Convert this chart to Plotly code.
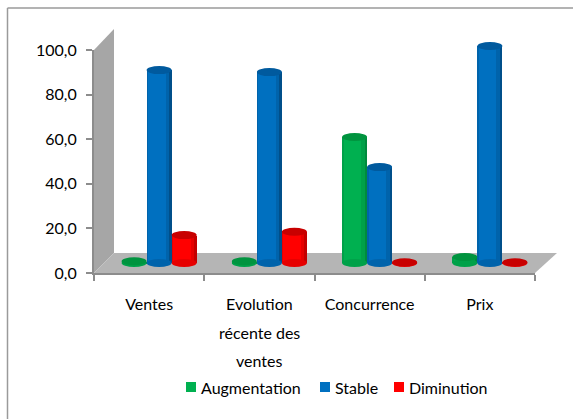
import plotly.graph_objects as go
import numpy as np

categories = ["Ventes", "Evolution", "Concurrence", "Prix"]
extra_label_lines = ["récente des", "ventes"]
series_names = ["Augmentation", "Stable", "Diminution"]
augmentation = [0.8, 0.8, 56.5, 2.7]
stable = [86.5, 85.6, 43.0, 97.3]
diminution = [12.5, 14.0, 0.3, 0.3]
y_ticks = [0, 20, 40, 60, 80, 100]

W, H = 573, 419
FONT = "Lato"
px = lambda v: v / W
py = lambda v: 1 - v / H

AX_L, AX_R, AX_B, AX_T = 94, 535, 273, 50
DX, DY = 10, 10
PAD = 6  # extra data units so that the ellipses are not clipped
unit = (AX_B - AX_T) / 100

BAR_W = 0.227
offsets = [-BAR_W, 0, BAR_W]
values = [augmentation, stable, diminution]
# (main, side, dark edge, top)
palette = [("#00B050", "#00A149", "#008A3E", "#00943F"),
           ("#0070C0", "#0063AB", "#004F8A", "#005A9E"),
           ("#FF0000", "#E60000", "#C40000", "#C80000")]
layers = [(1.0, 0.0, 2), (0.90, -0.05, 1), (0.70, -0.09, 0)]

pos = np.arange(len(categories), dtype=float)
fig = go.Figure()

for s, name in enumerate(series_names):
    for li, (wf, off, col) in enumerate(layers):
        fig.add_trace(go.Bar(
            x=pos + offsets[s] + off * BAR_W, y=values[s], width=BAR_W * wf,
            name=name, legendgroup=name, showlegend=False,
            marker=dict(color=palette[s][col], line=dict(width=0)),
            xaxis="x2", yaxis="y2", hoverinfo="y"))

# a dummy trace carrying the front axes
fig.add_trace(go.Scatter(x=[0], y=[0], mode="markers", marker=dict(opacity=0),
                         showlegend=False, hoverinfo="skip"))

shapes = []
GREY = "#8C8C8C"
def poly(points, color):
    d = "M " + " L ".join(f"{px(a):.5f},{py(b):.5f}" for a, b in points) + " Z"
    return dict(type="path", path=d, xref="paper", yref="paper", fillcolor=color,
                line=dict(width=0), layer="below")
shapes.append(poly([(94, 273), (114, 253), (114, 29), (94, 50)], "#A6A6A6"))
shapes.append(poly([(94, 273), (535, 273), (557, 253), (114, 253)], "#B5B5B5"))
# frame
for x0, y0, x1, y1 in [(7.5, 8, 7.5, 419), (7.5, 8, 573, 8)]:
    shapes.append(dict(type="line", xref="paper", yref="paper", x0=px(x0), x1=px(x1),
                       y0=py(y0), y1=py(y1), line=dict(color="#9A9A9A", width=1.5), layer="below"))
# cylinder ends, derived from the data
EH = 4 / unit
for s in range(3):
    for i, v in enumerate(values[s]):
        c = pos[i] + offsets[s]
        shapes.append(dict(type="circle", xref="x2", yref="y2", x0=c - BAR_W / 2, x1=c + BAR_W / 2,
                           y0=-EH, y1=EH, fillcolor=palette[s][1], line=dict(width=0)))
        shapes.append(dict(type="circle", xref="x2", yref="y2", x0=c - BAR_W / 2, x1=c + BAR_W / 2,
                           y0=v - EH, y1=v + EH, fillcolor=palette[s][3], line=dict(width=0)))

annotations = []
for k, line in enumerate(extra_label_lines):
    annotations.append(dict(text=line, x=1, xref="x", y=py(332 + 28 * k), yref="paper", yanchor="middle",
                            showarrow=False, font=dict(family=FONT, size=16, color="black")))
# legend row
legend_swatch_x = [186, 320, 394]
LEG_Y = 387
for s, name in enumerate(series_names):
    x0 = legend_swatch_x[s]
    shapes.append(dict(type="rect", xref="paper", yref="paper", x0=px(x0), x1=px(x0 + 10),
                       y0=py(LEG_Y - 5), y1=py(LEG_Y + 5), fillcolor=palette[s][0], line=dict(width=0)))
    annotations.append(dict(text=name, x=px(x0 + 14), xref="paper", xanchor="left", y=py(LEG_Y), yref="paper",
                            yanchor="middle", showarrow=False, xshift=-1,
                            font=dict(family=FONT, size=16, color="black")))

fig.update_layout(
    width=W, height=H, autosize=False, margin=dict(l=0, r=0, t=0, b=0, autoexpand=False),
    paper_bgcolor="white", plot_bgcolor="rgba(0,0,0,0)", showlegend=False,
    barmode="overlay", separators=", ", font=dict(family=FONT, size=16, color="black"),
    xaxis=dict(domain=[px(AX_L), px(AX_R)], range=[-0.5, 3.5], tickmode="array",
               tickvals=list(pos), ticktext=categories, ticks="", showgrid=False, zeroline=False,
               showline=True, linecolor=GREY, linewidth=2, ticklabelstandoff=16,
               minor=dict(tickmode="array", tickvals=list(np.arange(-0.5, 4)), ticks="outside",
                          ticklen=6, tickcolor=GREY, tickwidth=1.5, showgrid=False),
               anchor="y", tickfont=dict(family=FONT, size=16)),
    yaxis=dict(domain=[py(AX_B), py(AX_T)], range=[0, 100], tickmode="array", tickvals=y_ticks,
               tickformat=".1f", ticks="outside", ticklen=6, tickcolor=GREY, tickwidth=1.5,
               ticklabelstandoff=6,
               showgrid=False, zeroline=False, showline=True, linecolor=GREY, linewidth=2,
               anchor="x", tickfont=dict(family=FONT, size=16)),
    xaxis2=dict(domain=[px(AX_L + DX), px(AX_R + DX)], range=[-0.5, 3.5], visible=False, anchor="y2"),
    yaxis2=dict(domain=[py(AX_B - DY + PAD * unit), py(AX_T - DY - PAD * unit)],
                range=[-PAD, 100 + PAD], visible=False, anchor="x2"),
    shapes=shapes, annotations=annotations,
    bargap=0,
)
fig.write_html("out.html", config=dict(displayModeBar=False),
               post_script="document.body.style.margin='0';")
